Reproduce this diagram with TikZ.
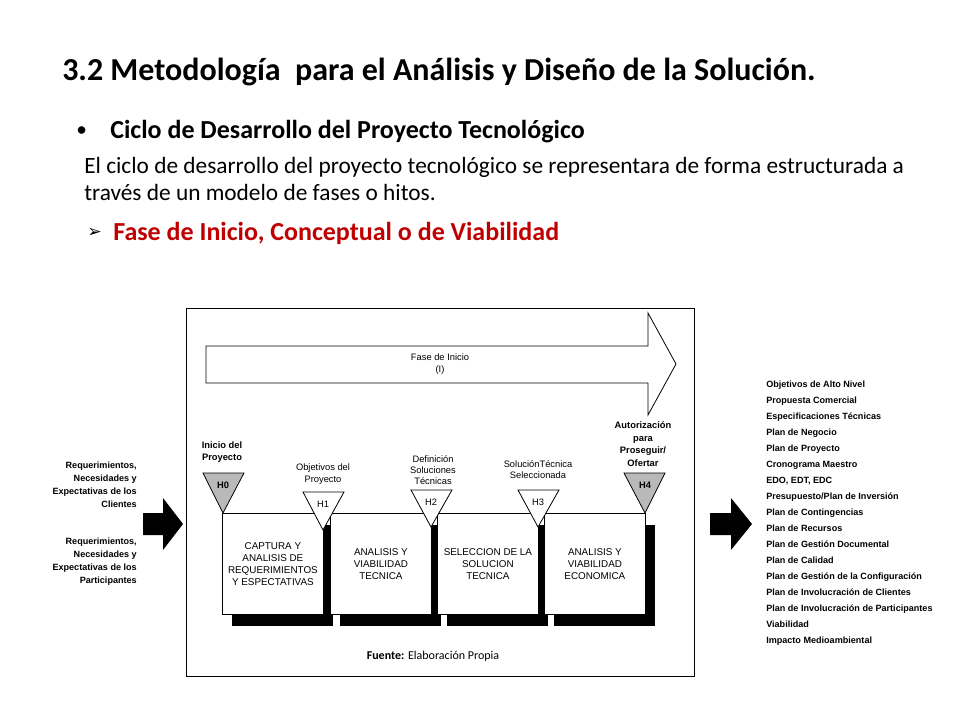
\documentclass[tikz,border=0pt]{standalone}
\usepackage{fontspec}
\setmainfont{Carlito}
\newfontfamily\ar{Liberation Sans}
\newfontfamily\djsym{DejaVu Sans}
\begin{document}
\begin{tikzpicture}[x=0.75pt,y=-0.75pt,
  sm/.style={font=\ar\fontsize{7}{8.4}\selectfont,align=center,inner sep=0pt},
  smb/.style={sm,font=\ar\bfseries\fontsize{7}{8.4}\selectfont},
  phase/.style={draw,fill=white,line width=0.6pt,minimum width=75.75pt,minimum height=75.75pt,anchor=north west,inner sep=0pt,font=\ar\fontsize{7.4}{9}\selectfont,align=center},
  shadow/.style={fill=black},
  hito/.style={draw,line width=0.6pt},
  blk/.style={fill=black}]
\useasboundingbox (0,0) rectangle (960,720);
% header texts
\node[anchor=west,font=\bfseries\fontsize{24}{28}\selectfont,inner sep=0pt] (title) at (62,72) {3.2 Metodología\ \ para el Análisis y Diseño de la Solución.};
\node[anchor=west,font=\fontsize{16}{18}\selectfont,inner sep=0pt] (bul) at (76,132) {•};
\node[anchor=west,font=\bfseries\fontsize{19.5}{22}\selectfont,inner sep=0pt] (sub) at (110,132) {Ciclo de Desarrollo del Proyecto Tecnológico};
\node[anchor=north west,font=\fontsize{17.5}{20.25}\selectfont,inner sep=0pt,align=left] (par) at (84,157) {El ciclo de desarrollo del proyecto tecnológico se representara de forma estructurada a\\través de un modelo de fases o hitos.};
\node[anchor=west,font=\djsym\fontsize{13}{15}\selectfont,inner sep=0pt] (arr) at (87,233) {➢};
\node[anchor=west,font=\bfseries\fontsize{19.5}{22}\selectfont,text={rgb,255:red,192;green,0;blue,0},inner sep=0pt] (fase) at (113,233) {Fase de Inicio, Conceptual o de Viabilidad};
% frame
\draw[line width=0.6pt] (186,308) rectangle (694,676);
% big arrow
\draw[line width=0.6pt,fill=white] (206,346) -- (648,346) -- (648,313) -- (676,364) -- (648,415) -- (648,383) -- (206,383) -- cycle;
\node[sm] (fi) at (440,364) {Fase de Inicio\\(I)};
% shadows
\foreach \x in {222,330,437,544} { \fill[shadow] (\x+10,525) rectangle (\x+111,626); }
\node[phase] (p1) at (222,513) {CAPTURA Y\\ANALISIS DE\\REQUERIMIENTOS\\Y ESPECTATIVAS};
\node[phase] (p2) at (330,513) {ANALISIS Y\\VIABILIDAD\\TECNICA};
\node[phase] (p3) at (437,513) {SELECCION DE LA\\SOLUCION\\TECNICA};
\node[phase] (p4) at (544,513) {ANALISIS Y\\VIABILIDAD\\ECONOMICA};
% hitos
\draw[hito,fill=gray!55] (203,473) -- (244,473) -- (223,513) -- cycle;
\draw[hito,fill=white] (303,492) -- (344,492) -- (323,530) -- cycle;
\draw[hito,fill=white] (411,490) -- (452,490) -- (431,527) -- cycle;
\draw[hito,fill=white] (518,490) -- (559,490) -- (538,527) -- cycle;
\draw[hito,fill=gray!55] (624,473) -- (665,473) -- (645,513) -- cycle;
\node[smb] (h0) at (223,485) {H0};
\node[sm] (h1) at (323,504) {H1};
\node[sm] (h2) at (431,502) {H2};
\node[sm] (h3) at (538,502) {H3};
\node[smb] (h4) at (645,485) {H4};
\node[smb] (l0) at (222,452) {Inicio del\\Proyecto};
\node[sm] (l1) at (323,474) {Objetivos del\\Proyecto};
\node[sm] (l2) at (433,470) {Definición\\Soluciones\\Técnicas};
\node[sm] (l3) at (538,470) {SoluciónTécnica\\Seleccionada};
\node[smb,font=\ar\bfseries\fontsize{7}{9.4}\selectfont] (l4) at (643,444) {Autorización\\para\\Proseguir/\\Ofertar};
% left texts
\node[smb,align=right,anchor=east,font=\ar\bfseries\fontsize{6.8}{9.75}\selectfont] (lt1) at (137,485) {Requerimientos,\\Necesidades y\\Expectativas de los\\Clientes};
\node[smb,align=right,anchor=east,font=\ar\bfseries\fontsize{6.8}{9.75}\selectfont] (lt2) at (137,562) {Requerimientos,\\Necesidades y\\Expectativas de los\\Participantes};
% block arrows
\fill[blk] (143,513) -- (163,513) -- (163,498) -- (183,524) -- (163,550) -- (163,535) -- (143,535) -- cycle;
\fill[blk] (710,513) -- (731,513) -- (731,498) -- (752,524) -- (731,550) -- (731,535) -- (710,535) -- cycle;
% right list
\node[anchor=north west,align=left,inner sep=0pt,font=\ar\bfseries\fontsize{6.8}{12}\selectfont] (list) at (766,381) {Objetivos de Alto Nivel\\Propuesta Comercial\\Especificaciones Técnicas\\Plan de Negocio\\Plan de Proyecto\\Cronograma Maestro\\EDO, EDT, EDC\\Presupuesto/Plan de Inversión\\Plan de Contingencias\\Plan de Recursos\\Plan de Gestión Documental\\Plan de Calidad\\Plan de Gestión de la Configuración\\Plan de Involucración de Clientes\\Plan de Involucración de Participantes\\Viabilidad\\Impacto Medioambiental};
\node[font=\fontsize{9}{11}\selectfont,inner sep=0pt] (src) at (433,656) {\textbf{Fuente:} Elaboración Propia};
\end{tikzpicture}
\end{document}
